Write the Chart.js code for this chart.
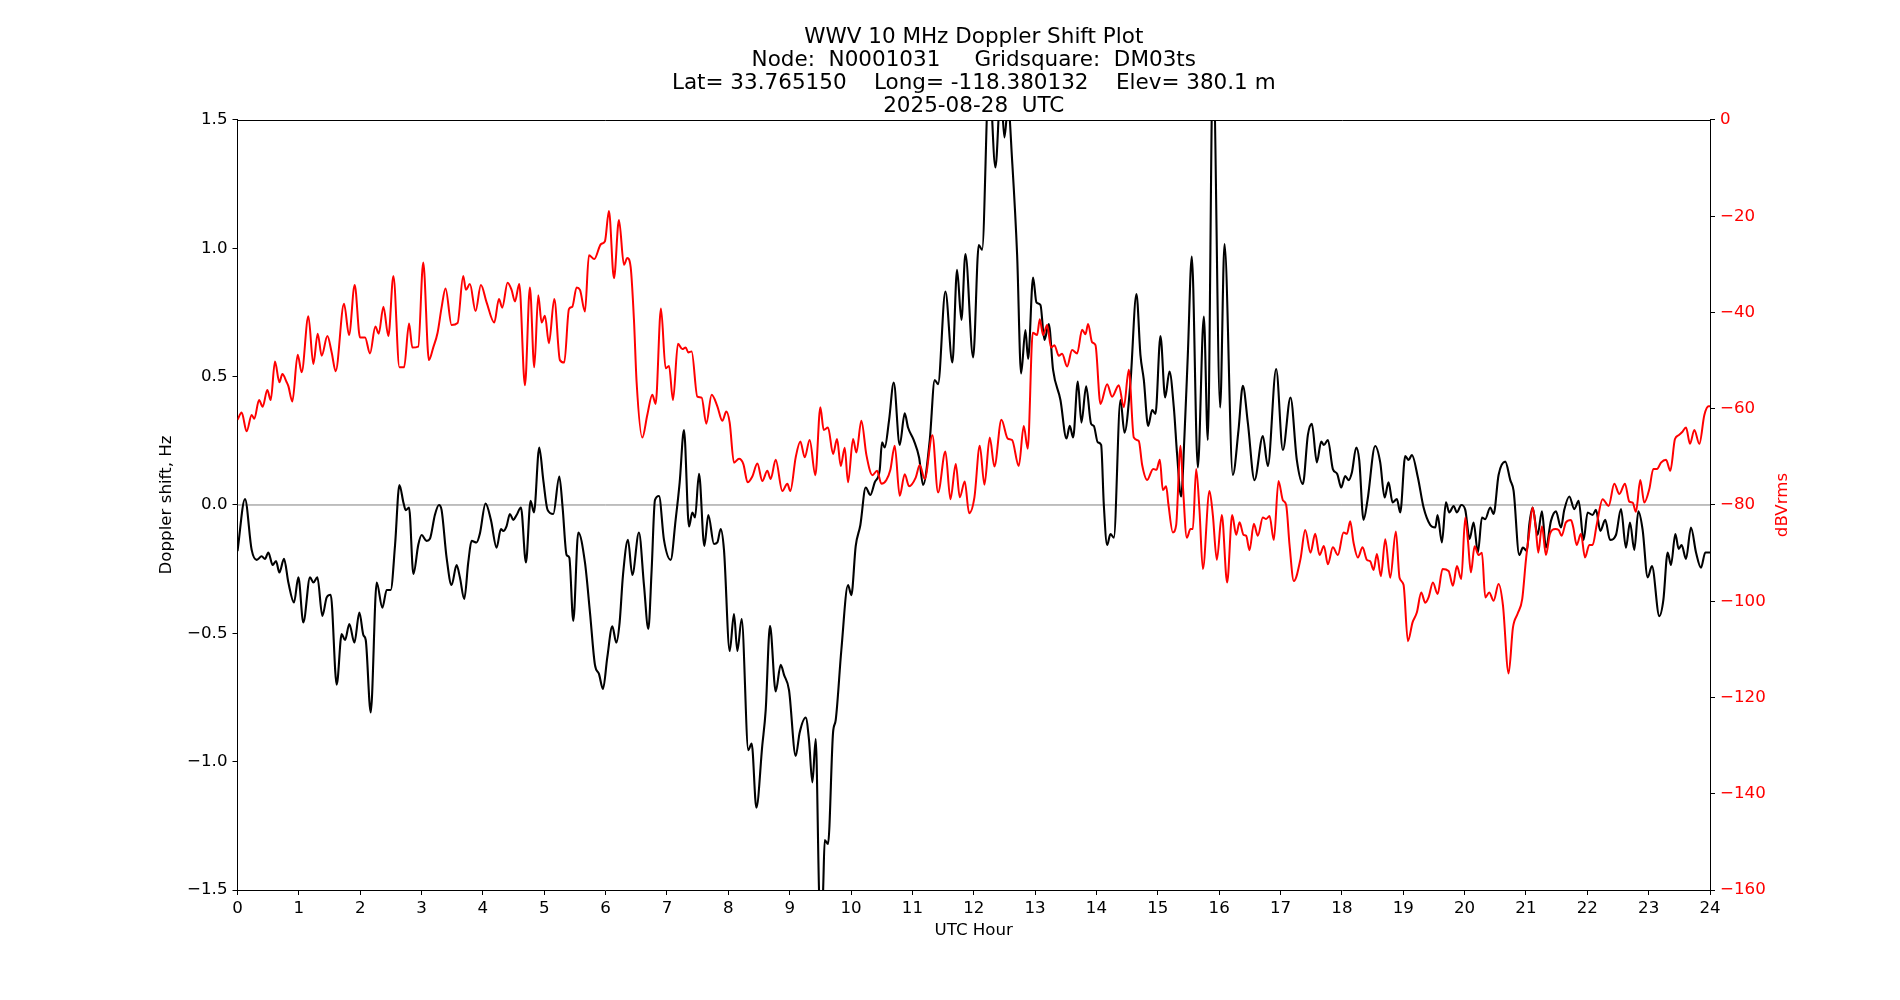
<!DOCTYPE html>
<html>
<head>
<meta charset="utf-8">
<script src="https://cdn.jsdelivr.net/npm/chart.js@4.4.1/dist/chart.umd.min.js"></script>
<style>
html, body { margin: 0; padding: 0; background: #ffffff; }
#wrap { width: 1900px; height: 1000px; position: relative; }
</style>
</head>
<body>
<div id="wrap"><canvas id="c"></canvas></div>
<script>
// ---------------- data ----------------
const titleLines = [
  'WWV 10 MHz Doppler Shift Plot',
  'Node:  N0001031     Gridsquare:  DM03ts',
  'Lat= 33.765150    Long= -118.380132    Elev= 380.1 m',
  '2025-08-28  UTC'
];
const xLabel = 'UTC Hour';
const yLeftLabel = 'Doppler shift, Hz';
const yRightLabel = 'dBVrms';

const dopplerHours = [
  0.00,0.122,0.231,0.313,0.394,0.448,0.503,0.573,0.628,0.682,0.758,0.829,0.921,0.992,1.073,1.182,1.236,1.302,1.383,1.454,
  1.519,1.617,1.698,1.753,1.823,1.905,1.986,2.052,2.09,2.171,2.269,2.361,2.432,2.497,2.568,2.639,2.704,2.742,2.796,2.867,
  2.946,3.0,3.082,3.136,3.217,3.283,3.326,3.408,3.489,3.571,3.625,3.696,3.761,3.815,3.897,3.951,4.043,4.13,4.223,4.293,
  4.332,4.386,4.44,4.495,4.549,4.62,4.701,4.777,4.832,4.918,4.984,5.054,5.147,5.245,5.299,5.364,5.408,5.473,5.554,5.663,
  5.745,5.826,5.891,5.957,6.027,6.109,6.174,6.228,6.283,6.364,6.435,6.543,6.625,6.696,6.75,6.804,6.87,6.951,7.06,7.141,
  7.207,7.277,7.359,7.413,7.457,7.522,7.609,7.674,7.766,7.821,7.875,7.929,8.022,8.092,8.147,8.217,8.326,8.38,8.457,8.554,
  8.609,8.679,8.772,8.853,8.908,8.989,9.098,9.163,9.261,9.315,9.37,9.424,9.478,9.51,9.545,9.571,9.625,9.707,9.75,9.842,
  9.951,10.005,10.076,10.152,10.239,10.315,10.386,10.467,10.505,10.549,10.62,10.696,10.793,10.875,10.929,11.022,11.109,11.174,11.283,11.364,
  11.418,11.538,11.652,11.728,11.799,11.864,11.99,12.082,12.136,12.25,12.353,12.44,12.5,12.56,12.625,12.707,12.772,12.842,12.886,12.967,
  13.022,13.087,13.152,13.223,13.293,13.413,13.511,13.565,13.62,13.696,13.755,13.832,13.913,13.957,14.022,14.076,14.12,14.174,14.228,14.283,
  14.391,14.457,14.554,14.652,14.717,14.772,14.842,14.908,14.962,15.043,15.12,15.19,15.261,15.315,15.38,15.435,15.489,15.554,15.652,15.75,
  15.815,15.9,16.016,16.087,16.223,16.315,16.386,16.467,16.576,16.712,16.793,16.929,17.038,17.163,17.266,17.364,17.446,17.511,17.592,17.663,
  17.707,17.772,17.853,17.924,17.989,18.054,18.109,18.163,18.234,18.283,18.353,18.418,18.543,18.625,18.696,18.761,18.826,18.897,18.951,19.033,
  19.087,19.141,19.239,19.332,19.44,19.522,19.56,19.63,19.696,19.75,19.821,19.875,19.946,20.011,20.082,20.147,20.217,20.283,20.337,20.418,
  20.473,20.554,20.663,20.745,20.799,20.891,20.951,21.016,21.054,21.109,21.19,21.261,21.326,21.408,21.489,21.571,21.625,21.707,21.788,21.859,
  21.94,22.005,22.087,22.141,22.212,22.293,22.37,22.467,22.549,22.63,22.696,22.766,22.832,22.902,22.984,23.054,23.174,23.24,23.31,23.364,
  23.435,23.489,23.538,23.609,23.69,23.772,23.853,23.924,24.0
];
const dopplerHz = [
  -0.18,0.023,-0.175,-0.214,-0.20,-0.21,-0.185,-0.234,-0.218,-0.263,-0.21,-0.302,-0.38,-0.282,-0.458,-0.282,-0.302,-0.282,-0.432,-0.36,
  -0.35,-0.70,-0.503,-0.526,-0.464,-0.536,-0.419,-0.507,-0.526,-0.808,-0.302,-0.40,-0.331,-0.331,-0.156,0.078,0.01,-0.02,-0.01,-0.269,
  -0.156,-0.117,-0.14,-0.132,-0.039,0.0,-0.019,-0.205,-0.312,-0.234,-0.282,-0.366,-0.224,-0.14,-0.146,-0.111,0.006,-0.058,-0.166,-0.094,
  -0.101,-0.082,-0.035,-0.058,-0.039,-0.01,-0.224,0.016,-0.029,0.224,0.097,-0.019,-0.035,0.111,-0.01,-0.195,-0.205,-0.452,-0.107,-0.224,
  -0.419,-0.623,-0.658,-0.717,-0.594,-0.473,-0.536,-0.458,-0.273,-0.136,-0.273,-0.107,-0.312,-0.483,-0.253,0.019,0.035,-0.136,-0.214,-0.058,
  0.088,0.292,-0.084,-0.029,-0.049,0.121,-0.16,-0.039,-0.152,-0.146,-0.094,-0.175,-0.569,-0.425,-0.569,-0.444,-0.955,-0.929,-1.179,-0.935,
  -0.799,-0.471,-0.726,-0.623,-0.662,-0.721,-0.978,-0.886,-0.828,-0.916,-1.081,-0.912,-1.50,-1.72,-1.50,-1.305,-1.321,-0.886,-0.838,-0.565,
  -0.312,-0.351,-0.16,-0.078,0.068,0.039,0.088,0.136,0.244,0.224,0.331,0.477,0.234,0.357,0.302,0.253,0.185,0.078,0.253,0.487,
  0.471,0.832,0.555,0.916,0.721,0.978,0.575,1.013,0.994,1.68,1.315,1.62,1.432,1.56,1.344,0.974,0.512,0.682,0.569,0.886,
  0.789,0.779,0.643,0.705,0.526,0.409,0.259,0.308,0.263,0.481,0.321,0.462,0.316,0.308,0.244,0.234,0.0,-0.156,-0.113,-0.127,
  0.409,0.282,0.477,0.822,0.584,0.487,0.308,0.37,0.355,0.658,0.419,0.52,0.38,0.195,0.033,0.273,0.584,0.968,0.146,0.734,
  0.253,1.75,0.38,1.017,0.117,0.292,0.464,0.321,0.097,0.269,0.152,0.53,0.214,0.419,0.175,0.082,0.273,0.316,0.166,0.247,
  0.234,0.253,0.14,0.121,0.068,0.113,0.097,0.127,0.224,0.175,-0.058,0.019,0.23,0.166,0.029,0.088,0.01,0.023,-0.029,0.191,
  0.175,0.195,0.107,-0.01,-0.078,-0.088,-0.039,-0.146,0.01,-0.029,-0.004,-0.029,0.0,-0.019,-0.132,-0.068,-0.185,-0.049,-0.055,-0.01,
  -0.035,0.117,0.169,0.097,0.055,-0.195,-0.166,-0.179,-0.078,-0.01,-0.117,-0.025,-0.166,-0.062,-0.025,-0.088,-0.019,0.033,-0.016,0.016,
  -0.136,-0.029,-0.039,-0.019,-0.101,-0.058,-0.136,-0.117,-0.016,-0.166,-0.068,-0.175,-0.025,-0.097,-0.282,-0.238,-0.433,-0.37,-0.185,-0.234,
  -0.113,-0.171,-0.156,-0.21,-0.088,-0.185,-0.244,-0.185,-0.185
];

const signalHours = [
  0.0,0.068,0.149,0.231,0.274,0.351,0.41,0.486,0.541,0.611,0.682,0.731,0.802,0.829,0.894,0.981,1.046,1.155,1.236,1.307,
  1.372,1.465,1.535,1.60,1.736,1.818,1.91,1.997,2.079,2.16,2.247,2.302,2.378,2.459,2.541,2.639,2.715,2.796,2.85,2.946,
  3.027,3.12,3.19,3.261,3.326,3.391,3.489,3.587,3.679,3.723,3.788,3.88,3.967,4.06,4.185,4.261,4.315,4.402,4.467,4.522,
  4.592,4.685,4.766,4.837,4.902,4.957,5.011,5.076,5.163,5.255,5.326,5.402,5.457,5.527,5.582,5.663,5.728,5.815,5.924,5.989,
  6.054,6.136,6.217,6.299,6.353,6.408,6.462,6.505,6.598,6.679,6.761,6.815,6.902,6.978,7.033,7.098,7.179,7.25,7.304,7.348,
  7.402,7.495,7.565,7.641,7.728,7.821,7.902,7.967,8.022,8.092,8.174,8.245,8.315,8.391,8.473,8.554,8.636,8.69,8.772,8.88,
  8.962,9.011,9.098,9.174,9.245,9.326,9.418,9.5,9.554,9.625,9.707,9.772,9.832,9.897,9.951,10.033,10.087,10.168,10.25,10.348,
  10.424,10.495,10.576,10.641,10.712,10.793,10.875,10.946,11.054,11.12,11.201,11.326,11.418,11.538,11.62,11.707,11.772,11.853,11.924,12.011,
  12.098,12.174,12.261,12.337,12.451,12.554,12.625,12.734,12.815,12.88,12.962,13.033,13.076,13.13,13.196,13.261,13.315,13.386,13.44,13.522,
  13.603,13.685,13.766,13.821,13.864,13.929,13.984,14.065,14.174,14.255,14.364,14.446,14.527,14.609,14.69,14.745,14.826,14.924,14.978,15.033,
  15.082,15.136,15.174,15.245,15.299,15.37,15.408,15.473,15.533,15.571,15.625,15.679,15.734,15.842,15.897,15.962,16.043,16.13,16.212,16.277,
  16.332,16.397,16.44,16.495,16.565,16.63,16.712,16.766,16.821,16.891,16.967,17.038,17.092,17.147,17.217,17.326,17.402,17.489,17.565,17.636,
  17.707,17.772,17.853,17.935,18.027,18.082,18.136,18.19,18.261,18.337,18.408,18.462,18.516,18.571,18.636,18.707,18.788,18.88,18.94,19.005,
  19.076,19.152,19.223,19.293,19.359,19.413,19.484,19.56,19.641,19.739,19.81,19.875,19.946,20.011,20.054,20.103,20.163,20.228,20.283,20.337,
  20.402,20.473,20.554,20.625,20.717,20.788,20.864,20.94,21.0,21.054,21.109,21.163,21.201,21.261,21.326,21.391,21.478,21.533,21.582,21.652,
  21.734,21.772,21.826,21.897,21.962,22.033,22.087,22.152,22.25,22.348,22.44,22.522,22.614,22.685,22.739,22.793,22.864,22.929,23.011,23.076,
  23.136,23.201,23.283,23.353,23.429,23.489,23.543,23.609,23.674,23.745,23.826,23.908,23.978,24.0
];
const signalDb = [
  -62.3,-60.8,-64.7,-61.3,-62.1,-58.2,-59.6,-56.1,-58.2,-50.2,-54.5,-52.8,-54.5,-55.3,-58.5,-48.8,-52.4,-40.8,-50.7,-44.4,
  -49.0,-44.9,-48.3,-52.2,-38.2,-44.7,-34.3,-45.2,-45.2,-48.5,-42.9,-44.4,-38.8,-44.9,-32.4,-51.4,-51.4,-42.3,-47.3,-47.1,
  -29.6,-49.9,-47.3,-44.2,-39.0,-35.0,-42.6,-42.2,-32.4,-35.3,-34.1,-39.7,-34.3,-37.9,-42.1,-37.2,-39.0,-33.8,-35.3,-37.7,
  -34.1,-55.1,-34.8,-51.4,-36.4,-42.1,-40.7,-46.4,-37.2,-49.9,-50.4,-39.3,-38.8,-34.8,-35.3,-39.8,-28.1,-28.9,-25.8,-25.2,
  -18.9,-32.9,-20.8,-30.1,-28.7,-30.6,-41.6,-54.5,-66.0,-61.3,-57.1,-59.0,-39.2,-51.6,-51.1,-58.2,-46.5,-47.6,-47.3,-48.3,
  -48.1,-57.5,-57.7,-63.1,-57.1,-59.5,-62.5,-60.6,-62.9,-71.2,-70.4,-71.5,-75.3,-74.1,-71.4,-75.0,-72.9,-74.6,-70.6,-77.1,
  -75.6,-77.1,-70.1,-66.8,-70.1,-66.5,-73.8,-59.7,-64.4,-63.9,-69.4,-66.3,-71.9,-68.1,-75.3,-66.3,-69.1,-62.5,-69.6,-73.8,
  -72.9,-75.6,-74.8,-72.7,-67.7,-78.1,-73.6,-76.1,-74.3,-71.7,-74.6,-65.5,-77.4,-68.9,-78.8,-71.5,-78.4,-75.1,-81.7,-78.4,
  -67.7,-75.8,-66.0,-72.0,-62.3,-66.2,-66.5,-71.9,-63.6,-68.3,-44.2,-44.7,-41.4,-44.7,-42.6,-47.3,-46.8,-49.0,-48.6,-51.2,
  -47.8,-48.5,-43.6,-44.5,-42.4,-46.2,-46.8,-59.0,-54.9,-57.5,-55.1,-59.7,-51.9,-66.0,-66.7,-71.7,-74.8,-72.5,-72.7,-70.6,
  -76.9,-76.1,-80.0,-85.7,-84.2,-67.7,-75.8,-86.8,-85.0,-85.0,-72.5,-81.0,-93.3,-77.1,-82.1,-91.4,-82.1,-96.1,-82.1,-86.2,
  -83.6,-86.2,-86.4,-89.4,-83.9,-86.4,-82.6,-82.9,-82.3,-87.3,-75.0,-79.0,-80.0,-88.3,-95.8,-91.2,-85.2,-89.9,-86.0,-90.4,
  -88.5,-92.3,-88.8,-90.4,-85.7,-86.0,-83.4,-87.8,-90.9,-88.8,-91.4,-91.7,-93.5,-90.2,-94.8,-87.1,-95.1,-85.5,-95.1,-96.6,
  -108.3,-104.4,-102.3,-98.2,-100.3,-99.2,-96.1,-98.5,-93.3,-93.7,-96.8,-92.7,-95.4,-82.6,-87.3,-94.0,-88.6,-90.4,-89.9,-99.2,
  -98.2,-99.9,-96.4,-100.8,-115.0,-105.5,-102.6,-99.5,-91.4,-85.7,-80.5,-85.2,-89.9,-84.4,-90.4,-86.0,-85.0,-85.2,-86.4,-83.6,
  -83.1,-84.7,-88.3,-86.0,-90.9,-88.3,-88.3,-84.2,-78.8,-80.2,-75.6,-77.7,-75.6,-79.3,-79.5,-81.4,-74.8,-79.5,-76.7,-72.5,
  -72.5,-71.2,-70.6,-72.9,-66.3,-65.5,-64.9,-63.9,-67.3,-64.4,-67.3,-61.3,-59.5,-59.5
];

const zeroLineHours = [0, 24];
const zeroLineHz = [0, 0];

const xTickValues = [0,1,2,3,4,5,6,7,8,9,10,11,12,13,14,15,16,17,18,19,20,21,22,23,24];
const leftTickValues = [-1.5,-1.0,-0.5,0.0,0.5,1.0,1.5];
const rightTickValues = [-160,-140,-120,-100,-80,-60,-40,-20,0];

// ---------------- chart ----------------
const pairs = (xs, ys) => xs.map((x, i) => ({ x: x, y: ys[i] }));
const minusFmt = (s) => String(s).replace('-', '\u2212');
const FONT = '"DejaVu Sans", "Liberation Sans", sans-serif';

const framePlugin = {
  id: 'frame',
  afterDraw(chart) {
    const { ctx, chartArea: a } = chart;
    ctx.save();
    ctx.strokeStyle = '#000000';
    ctx.lineWidth = 1;
    ctx.beginPath();
    ctx.moveTo(Math.round(a.left) - 0.5, Math.round(a.top) + 0.5);
    ctx.lineTo(Math.round(a.right) + 0.5, Math.round(a.top) + 0.5);
    ctx.stroke();
    // right axis label (rotated like matplotlib: reads bottom-to-top)
    ctx.fillStyle = '#ff0000';
    ctx.font = '16.67px ' + FONT;
    ctx.textAlign = 'center';
    ctx.textBaseline = 'middle';
    ctx.translate(a.right + 72.5, (a.top + a.bottom) / 2);
    ctx.rotate(-Math.PI / 2);
    ctx.fillText(yRightLabel, 0, 0);
    ctx.restore();
  }
};

Chart.defaults.color = '#000000';
Chart.defaults.font.family = FONT;

new Chart(document.getElementById('c'), {
  type: 'line',
  data: {
    datasets: [
      {
        label: 'dBVrms',
        data: pairs(signalHours, signalDb),
        yAxisID: 'y2',
        borderColor: '#ff0000',
        borderWidth: 2,
        pointRadius: 0,
        fill: false,
        cubicInterpolationMode: 'monotone',
        order: 0
      },
      {
        label: 'Doppler',
        data: pairs(dopplerHours, dopplerHz),
        yAxisID: 'y',
        borderColor: '#000000',
        borderWidth: 2.1,
        pointRadius: 0,
        fill: false,
        cubicInterpolationMode: 'monotone',
        order: 1
      },
      {
        label: 'zero',
        data: pairs(zeroLineHours, zeroLineHz),
        yAxisID: 'y',
        borderColor: '#808080',
        borderWidth: 1,
        pointRadius: 0,
        fill: false,
        order: 2
      }
    ]
  },
  options: {
    responsive: true,
    maintainAspectRatio: false,
    animation: false,
    devicePixelRatio: 1,
    layout: { padding: 0 },
    plugins: {
      legend: { display: false },
      tooltip: { enabled: false },
      title: {
        display: true,
        fullSize: false,
        text: titleLines,
        color: '#000000',
        font: { size: 21.5, weight: 'normal', family: FONT, lineHeight: 1.074 },
        padding: { top: 25.5, bottom: 2.1 }
      }
    },
    scales: {
      x: {
        type: 'linear',
        position: 'bottom',
        min: 0,
        max: 24,
        afterFit(s) { s.height = 110; },
        afterBuildTicks(s) { s.ticks = xTickValues.map(v => ({ value: v })); },
        ticks: {
          autoSkip: false,
          maxRotation: 0,
          padding: 4,
          color: '#000000',
          font: { size: 16.67, family: FONT },
          callback: (v) => minusFmt(v)
        },
        grid: { drawOnChartArea: false, drawTicks: true, tickLength: 5, color: '#000000', tickWidth: 1 },
        border: { display: true, color: '#000000', width: 1 },
        title: {
          display: true,
          text: xLabel,
          color: '#000000',
          font: { size: 16.67, family: FONT, lineHeight: 1.2 },
          padding: { top: 0, bottom: 59 }
        }
      },
      y: {
        type: 'linear',
        position: 'left',
        min: -1.5,
        max: 1.5,
        afterFit(s) { s.width = 237.5; },
        afterBuildTicks(s) { s.ticks = leftTickValues.map(v => ({ value: v })); },
        ticks: {
          padding: 5,
          color: '#000000',
          font: { size: 16.67, family: FONT },
          callback: (v) => minusFmt(Number(v).toFixed(1))
        },
        grid: { drawOnChartArea: false, drawTicks: true, tickLength: 5, color: '#000000', tickWidth: 1 },
        border: { display: true, color: '#000000', width: 1 },
        title: {
          display: true,
          text: yLeftLabel,
          color: '#000000',
          font: { size: 16.67, family: FONT, lineHeight: 1.2 },
          padding: { top: 157, bottom: 0 }
        }
      },
      y2: {
        type: 'linear',
        position: 'right',
        min: -160,
        max: 0,
        afterFit(s) { s.width = 190; },
        afterBuildTicks(s) { s.ticks = rightTickValues.map(v => ({ value: v })); },
        ticks: {
          padding: 5,
          color: '#ff0000',
          font: { size: 16.67, family: FONT },
          callback: (v) => minusFmt(Math.round(v))
        },
        grid: { drawOnChartArea: false, drawTicks: true, tickLength: 5, color: '#000000', tickWidth: 1 },
        border: { display: true, color: '#000000', width: 1 },
        title: { display: false }
      }
    }
  },
  plugins: [framePlugin]
});
</script>
</body>
</html>
